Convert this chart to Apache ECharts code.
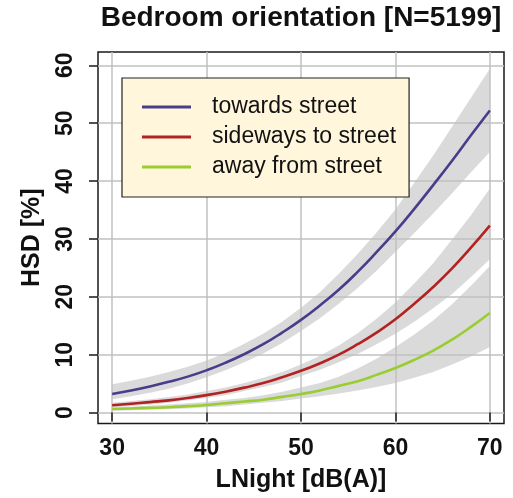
<!DOCTYPE html>
<html>
<head>
<meta charset="utf-8">
<script src="https://cdn.jsdelivr.net/npm/echarts@6/dist/echarts.min.js"></script>
<style>
  html, body { margin: 0; padding: 0; background: #ffffff; }
  #chart { width: 513px; height: 498px; }
</style>
</head>
<body>
<div id="chart"></div>
<script>
// Night-time noise level (x) and predicted share highly sleep-disturbed (%)
const lnight = [30, 32, 34, 36, 38, 40, 42, 44, 46, 48, 50, 52, 54, 56, 58, 60, 62, 64, 66, 68, 70];

const towardsStreet = [3.2, 3.8, 4.5, 5.3, 6.2, 7.3, 8.6, 10.1, 11.8, 13.8, 16.0, 18.5, 21.2, 24.3, 27.7, 31.3, 35.2, 39.3, 43.5, 47.9, 52.2];
const towardsUpper  = [4.9, 5.5, 6.2, 7.0, 7.9, 9.0, 10.3, 11.9, 13.6, 15.7, 18.1, 20.8, 24.0, 27.4, 31.1, 35.1, 39.7, 44.4, 49.4, 54.4, 59.4];
const towardsLower  = [2.3, 2.8, 3.4, 4.1, 5.0, 6.1, 7.3, 8.7, 10.2, 12.0, 14.1, 16.3, 18.8, 21.5, 24.5, 27.8, 31.0, 34.4, 37.9, 41.5, 45.0];

const sidewaysStreet = [1.25, 1.5, 1.8, 2.1, 2.5, 3.0, 3.6, 4.3, 5.1, 6.1, 7.2, 8.5, 10.0, 11.8, 13.8, 16.1, 18.8, 21.7, 24.9, 28.5, 32.3];
const sidewaysUpper  = [1.7, 2.0, 2.3, 2.7, 3.1, 3.7, 4.3, 5.1, 6.0, 7.0, 8.3, 9.8, 11.6, 13.7, 16.2, 19.0, 22.3, 25.8, 29.9, 34.1, 38.7];
const sidewaysLower  = [0.9, 1.1, 1.4, 1.7, 2.1, 2.5, 3.0, 3.7, 4.4, 5.2, 6.3, 7.4, 8.7, 10.1, 11.8, 13.6, 15.7, 18.0, 20.5, 23.4, 26.5];

const awayStreet = [0.6, 0.7, 0.8, 0.9, 1.1, 1.3, 1.6, 1.9, 2.2, 2.7, 3.2, 3.8, 4.6, 5.4, 6.5, 7.7, 9.1, 10.7, 12.6, 14.8, 17.2];
const awayUpper  = [0.9, 1.0, 1.2, 1.4, 1.6, 1.8, 2.2, 2.5, 3.0, 3.6, 4.3, 5.1, 6.2, 7.6, 9.3, 11.3, 13.5, 15.9, 18.7, 21.9, 25.3];
const awayLower  = [0.3, 0.4, 0.5, 0.6, 0.7, 0.9, 1.1, 1.4, 1.7, 2.0, 2.4, 2.8, 3.3, 3.8, 4.4, 5.1, 6.0, 7.0, 8.3, 9.7, 11.3];

const seriesNames = ['towards street', 'sideways to street', 'away from street'];
const seriesColors = ['#483d8b', '#b22222', '#9acd32'];
const xTicks = [30, 40, 50, 60, 70];
const yTicks = [0, 10, 20, 30, 40, 50, 60];

const curves = [towardsStreet, sidewaysStreet, awayStreet];
const bands = [
  { upper: towardsUpper, lower: towardsLower },
  { upper: sidewaysUpper, lower: sidewaysLower },
  { upper: awayUpper, lower: awayLower }
];

const FONT = '"Liberation Sans", Arial, Helvetica, sans-serif';
const INK = '#1a1a1a';

const chart = echarts.init(document.getElementById('chart'), null, { renderer: 'canvas' });

// Confidence bands: one closed polygon per group, upper edge then lower edge reversed
const bandSeries = {
  type: 'custom',
  name: 'bands',
  z: -1,
  silent: true,
  data: bands.map(b => [lnight[0], b.lower[0]]),
  renderItem: function (params, api) {
    const b = bands[params.dataIndex];
    const pts = [];
    for (let i = 0; i < lnight.length; i++) pts.push(api.coord([lnight[i], b.upper[i]]));
    for (let i = lnight.length - 1; i >= 0; i--) pts.push(api.coord([lnight[i], b.lower[i]]));
    return {
      type: 'polygon',
      shape: { points: pts },
      style: { fill: '#dadada', stroke: null }
    };
  }
};

const lineSeries = curves.map((vals, k) => ({
  type: 'line',
  name: seriesNames[k],
  data: vals.map((v, i) => [lnight[i], v]),
  smooth: true,
  showSymbol: false,
  symbol: 'none',
  z: 3,
  lineStyle: { color: seriesColors[k], width: 2.6 },
  itemStyle: { color: seriesColors[k] },
  emphasis: { disabled: true }
}));

chart.setOption({
  animation: false,
  backgroundColor: '#ffffff',
  title: {
    text: 'Bedroom orientation [N=5199]',
    left: 301,
    top: 4,
    padding: 0,
    textAlign: 'center',
    textStyle: { fontFamily: FONT, fontSize: 28, fontWeight: 'bold', color: '#111111' }
  },
  legend: {
    left: 122,
    top: 78,
    orient: 'vertical',
    data: seriesNames.map(n => ({ name: n, icon: 'rect' })),
    itemWidth: 49,
    itemHeight: 3,
    itemGap: 0,
    padding: [14, 13, 15, 20],
    backgroundColor: '#fff6dc',
    borderColor: '#222222',
    borderWidth: 1.2,
    borderRadius: 0,
    selectedMode: false,
    textStyle: {
      fontFamily: FONT,
      fontSize: 23,
      color: '#111111',
      lineHeight: 30,
      padding: [0, 0, 0, 16]
    }
  },
  grid: {
    left: 98,
    top: 52,
    width: 406,
    height: 371.5,
    show: true,
    borderColor: INK,
    borderWidth: 1.5,
    backgroundColor: 'transparent',
    containLabel: false
  },
  xAxis: {
    type: 'value',
    min: 28.5,
    max: 71.5,
    name: 'LNight [dB(A)]',
    nameLocation: 'middle',
    nameGap: 44,
    nameTextStyle: { fontFamily: FONT, fontSize: 25, fontWeight: 'bold', color: '#111111' },
    axisLine: { show: false },
    axisTick: { show: true, inside: false, length: 9, customValues: xTicks, lineStyle: { color: INK, width: 1.5 } },
    axisLabel: { customValues: xTicks, margin: 14, fontFamily: FONT, fontSize: 23, fontWeight: 'bold', color: '#111111' },
    splitLine: { show: true, lineStyle: { color: '#c0c0c0', width: 1.5 } }
  },
  yAxis: {
    type: 'value',
    min: -1.9,
    max: 62.3,
    name: 'HSD [%]',
    nameLocation: 'middle',
    nameGap: 53,
    nameTextStyle: { fontFamily: FONT, fontSize: 25, fontWeight: 'bold', color: '#111111' },
    axisLine: { show: false },
    axisTick: { show: true, inside: false, length: 9, customValues: yTicks, lineStyle: { color: INK, width: 1.5 } },
    axisLabel: { customValues: yTicks, rotate: 90, margin: 21, fontFamily: FONT, fontSize: 23, fontWeight: 'bold', color: '#111111' },
    splitLine: { show: true, lineStyle: { color: '#c0c0c0', width: 1.5 } }
  },
  series: [bandSeries].concat(lineSeries)
});
</script>
</body>
</html>
